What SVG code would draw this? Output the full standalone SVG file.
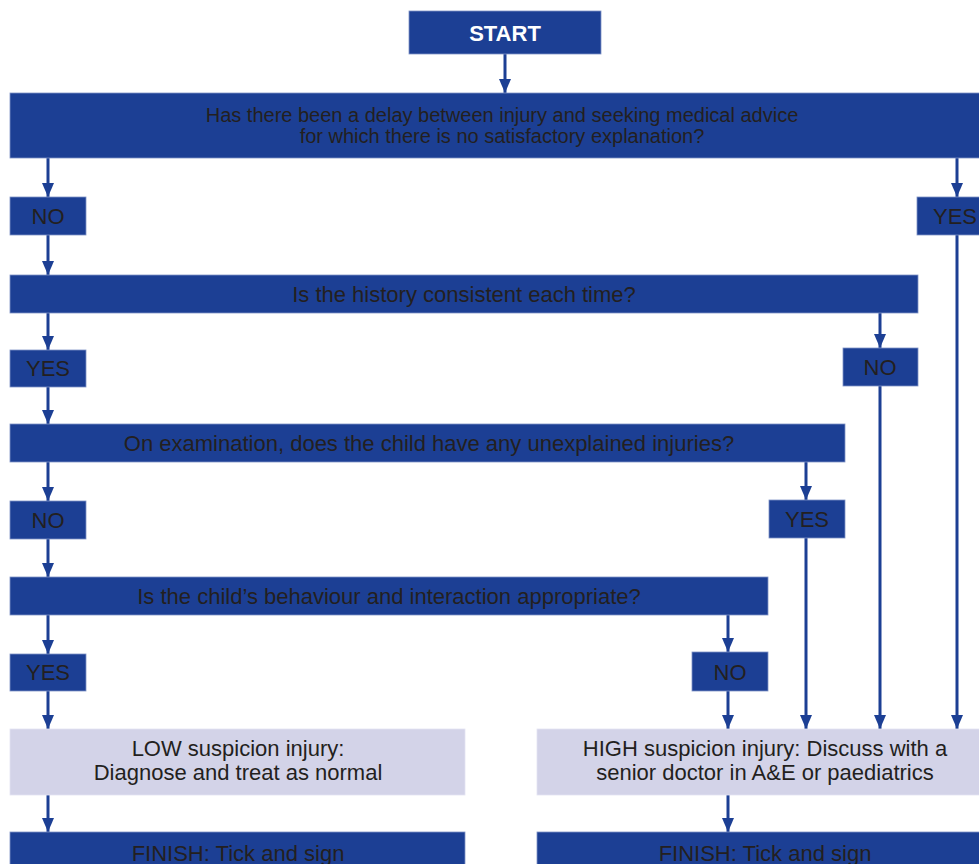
<svg xmlns="http://www.w3.org/2000/svg" width="979" height="864" viewBox="0 0 979 864">
<style>
.b{fill:#1c3f94;stroke:#7f93c6;stroke-width:0.8}
.l{fill:#d3d3e8;stroke:#e4e4f2;stroke-width:0.8}
.t{font-family:"Liberation Sans",Arial,sans-serif;font-size:22px;fill:#231f20;text-anchor:middle}
.q{font-size:20px}
.s{font-family:"Liberation Sans",Arial,sans-serif;font-size:22px;font-weight:bold;fill:#ffffff;text-anchor:middle}
.c{stroke:#1c3f94;stroke-width:3;fill:none;marker-end:url(#a)}
</style>
<defs>
<marker id="a" markerWidth="14" markerHeight="12" refX="14" refY="6" orient="auto" markerUnits="userSpaceOnUse" viewBox="0 0 14 12">
<path d="M0,0 L14,6 L0,12 Z" fill="#1c3f94"/>
</marker>
</defs>
<g id="connectors">
<line class="c" x1="505" y1="54" x2="505" y2="93"/>
<line class="c" x1="48" y1="158" x2="48" y2="197"/>
<line class="c" x1="957" y1="158" x2="957" y2="197"/>
<line class="c" x1="48" y1="235" x2="48" y2="275"/>
<line class="c" x1="48" y1="313" x2="48" y2="350"/>
<line class="c" x1="880" y1="313" x2="880" y2="348"/>
<line class="c" x1="48" y1="387" x2="48" y2="424"/>
<line class="c" x1="48" y1="462" x2="48" y2="501"/>
<line class="c" x1="806" y1="462" x2="806" y2="500"/>
<line class="c" x1="48" y1="539" x2="48" y2="577"/>
<line class="c" x1="48" y1="615" x2="48" y2="654"/>
<line class="c" x1="728" y1="615" x2="728" y2="652"/>
<line class="c" x1="48" y1="691" x2="48" y2="729"/>
<line class="c" x1="728" y1="691" x2="728" y2="729"/>
<line class="c" x1="806" y1="538" x2="806" y2="729"/>
<line class="c" x1="880" y1="386" x2="880" y2="729"/>
<line class="c" x1="957" y1="235" x2="957" y2="729"/>
<line class="c" x1="48" y1="795" x2="48" y2="832"/>
<line class="c" x1="728" y1="795" x2="728" y2="832"/>
</g>
<g id="start"><rect class="b" x="409" y="11" width="192" height="43"/><text class="s" x="505" y="41">START</text></g>
<g id="q1"><rect class="b" x="10" y="93" width="975" height="65"/><text class="t q" x="502" y="122">Has there been a delay between injury and seeking medical advice</text><text class="t q" x="502" y="143">for which there is no satisfactory explanation?</text></g>
<g id="q1-no"><rect class="b" x="10" y="197" width="76" height="38"/><text class="t" x="48" y="224">NO</text></g>
<g id="q1-yes"><rect class="b" x="917" y="197" width="68" height="38"/><text class="t" x="955" y="224">YES</text></g>
<g id="q2"><rect class="b" x="10" y="275" width="908" height="38"/><text class="t" x="464" y="302">Is the history consistent each time?</text></g>
<g id="q2-yes"><rect class="b" x="10" y="350" width="76" height="37"/><text class="t" x="48" y="376">YES</text></g>
<g id="q2-no"><rect class="b" x="843" y="348" width="75" height="38"/><text class="t" x="880" y="375">NO</text></g>
<g id="q3"><rect class="b" x="10" y="424" width="835" height="38"/><text class="t" x="429" y="451">On examination, does the child have any unexplained injuries?</text></g>
<g id="q3-no"><rect class="b" x="10" y="501" width="76" height="38"/><text class="t" x="48" y="528">NO</text></g>
<g id="q3-yes"><rect class="b" x="769" y="500" width="76" height="38"/><text class="t" x="807" y="527">YES</text></g>
<g id="q4"><rect class="b" x="10" y="577" width="758" height="38"/><text class="t" x="389" y="604">Is the child’s behaviour and interaction appropriate?</text></g>
<g id="q4-yes"><rect class="b" x="10" y="654" width="76" height="37"/><text class="t" x="48" y="680">YES</text></g>
<g id="q4-no"><rect class="b" x="692" y="652" width="76" height="39"/><text class="t" x="730" y="680">NO</text></g>
<g id="low"><rect class="l" x="10" y="729" width="455" height="66"/><text class="t" x="238" y="756">LOW suspicion injury:</text><text class="t" x="238" y="780">Diagnose and treat as normal</text></g>
<g id="high"><rect class="l" x="537" y="729" width="447" height="66"/><text class="t" x="765" y="756">HIGH suspicion injury: Discuss with a</text><text class="t" x="765" y="780">senior doctor in A&amp;E or paediatrics</text></g>
<g id="finish-low"><rect class="b" x="10" y="832" width="455" height="40"/><text class="t" x="238" y="861">FINISH: Tick and sign</text></g>
<g id="finish-high"><rect class="b" x="537" y="832" width="447" height="40"/><text class="t" x="765" y="861">FINISH: Tick and sign</text></g>
</svg>
